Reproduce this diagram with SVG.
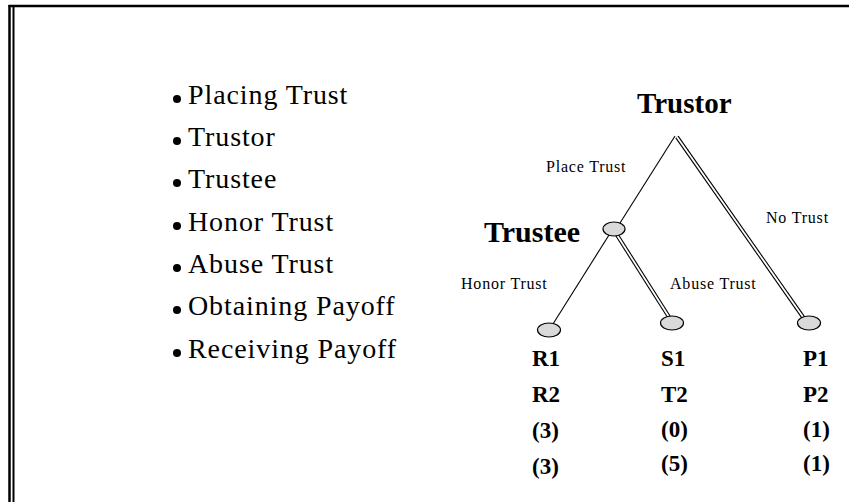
<svg xmlns="http://www.w3.org/2000/svg" width="849" height="502" viewBox="0 0 849 502">
<style>
.frame{stroke:#000;fill:none}
.bul{font-family:"Liberation Serif",serif;font-size:28px;letter-spacing:0.9px;fill:#000}
.head{font-family:"Liberation Serif",serif;font-weight:bold;fill:#000}
.lbl{font-family:"Liberation Serif",serif;font-size:16px;letter-spacing:0.8px;fill:#000}
.pay{font-family:"Liberation Serif",serif;font-weight:bold;font-size:23px;fill:#000}
.node{fill:#d9d9d9;stroke:#000;stroke-width:1.2}
.single{stroke:#000;stroke-width:1.1;fill:none}
.dblo{stroke:#000;stroke-width:4;fill:none}
.dbli{stroke:#fff;stroke-width:1.8;fill:none}
</style>
<rect width="849" height="502" fill="#fff"/>
<g id="frame">
<line class="frame" x1="9.5" y1="5" x2="9.5" y2="502" stroke-width="2.5"/>
<line class="frame" x1="13.5" y1="6" x2="13.5" y2="502" stroke-width="2"/>
<line class="frame" x1="8.5" y1="6" x2="849" y2="6" stroke-width="2.5"/>
</g>
<g id="bullets">
<g fill="#000">
<circle cx="177" cy="99" r="4"/>
<circle cx="177" cy="141" r="4"/>
<circle cx="177" cy="183" r="4"/>
<circle cx="177" cy="226" r="4"/>
<circle cx="177" cy="268" r="4"/>
<circle cx="177" cy="310" r="4"/>
<circle cx="177" cy="353" r="4"/>
</g>
<text class="bul" x="188" y="104">Placing Trust</text>
<text class="bul" x="188" y="146">Trustor</text>
<text class="bul" x="188" y="188">Trustee</text>
<text class="bul" x="188" y="231">Honor Trust</text>
<text class="bul" x="188" y="273">Abuse Trust</text>
<text class="bul" x="188" y="315">Obtaining Payoff</text>
<text class="bul" x="188" y="358">Receiving Payoff</text>
</g>
<g id="connectors">
<line class="single" x1="675" y1="136" x2="620" y2="223"/>
<line class="dblo" x1="677" y1="137" x2="803" y2="317"/>
<line class="dbli" x1="677" y1="137" x2="803" y2="317"/>
<line class="single" x1="609" y1="235" x2="553" y2="324"/>
<line class="dblo" x1="617" y1="235" x2="669" y2="317"/>
<line class="dbli" x1="617" y1="235" x2="669" y2="317"/>
<text class="lbl" x="546" y="172">Place Trust</text>
<text class="lbl" x="766" y="223">No Trust</text>
<text class="lbl" x="461" y="289">Honor Trust</text>
<text class="lbl" x="670" y="289">Abuse Trust</text>
</g>
<g id="trustor">
<text class="head" x="637" y="113" font-size="29">Trustor</text>
</g>
<g id="trustee">
<ellipse class="node" cx="614" cy="229" rx="11" ry="7"/>
<text class="head" x="484" y="242" font-size="30">Trustee</text>
</g>
<g id="leaf-honor">
<ellipse class="node" cx="549" cy="330" rx="11.5" ry="7"/>
<text class="pay" x="532" y="366">R1</text>
<text class="pay" x="532" y="402">R2</text>
<text class="pay" x="532" y="438">(3)</text>
<text class="pay" x="532" y="474">(3)</text>
</g>
<g id="leaf-abuse">
<ellipse class="node" cx="672" cy="323" rx="11.5" ry="7"/>
<text class="pay" x="661" y="366">S1</text>
<text class="pay" x="661" y="402">T2</text>
<text class="pay" x="661" y="437">(0)</text>
<text class="pay" x="661" y="471">(5)</text>
</g>
<g id="leaf-notrust">
<ellipse class="node" cx="809" cy="323" rx="11.5" ry="7"/>
<text class="pay" x="803" y="366">P1</text>
<text class="pay" x="803" y="402">P2</text>
<text class="pay" x="803" y="437">(1)</text>
<text class="pay" x="803" y="471">(1)</text>
</g>
</svg>
